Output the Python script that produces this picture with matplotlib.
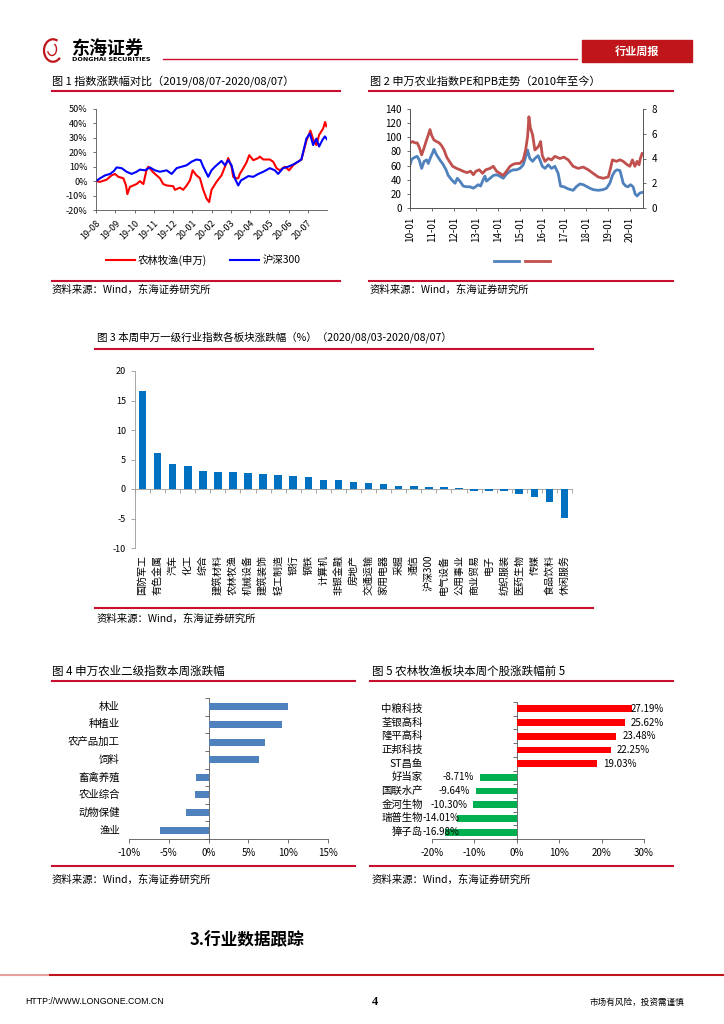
import matplotlib
matplotlib.use('Agg')

import numpy as np
import matplotlib.pyplot as plt
from matplotlib.lines import Line2D
from matplotlib.patches import Rectangle, Arc
from matplotlib.ticker import FuncFormatter

plt.rcParams['font.family'] = ['Noto Sans CJK SC', 'DejaVu Sans']
plt.rcParams['axes.unicode_minus'] = False
plt.rcParams['axes.linewidth'] = 0.6
plt.rcParams['axes.edgecolor'] = '#555555'
plt.rcParams['xtick.color'] = '#555555'
plt.rcParams['ytick.color'] = '#555555'
plt.rcParams['xtick.labelcolor'] = 'black'
plt.rcParams['ytick.labelcolor'] = 'black'

# =========================== 数据 ===========================
# 图1 指数涨跌幅 (横轴: 自2019/08/07起的月数, 纵轴: %)
agri_x = [0, 0.21, 0.55, 0.81, 0.99, 1.16, 1.42, 1.56, 1.63, 1.76, 2.11, 2.28, 2.46, 2.63, 2.72,
          2.98, 3.32, 3.49, 3.67, 4.01, 4.10, 4.36, 4.53, 4.71, 4.88, 5.02, 5.22, 5.40, 5.57, 5.74,
          5.88, 6.00, 6.26, 6.52, 6.70, 6.87, 7.04, 7.13, 7.30, 7.39, 7.47, 7.65, 7.82, 7.96, 8.17,
          8.43, 8.51, 8.69, 9.03, 9.20, 9.38, 9.55, 9.81, 10.03, 10.24, 10.50, 10.67, 10.93, 11.14,
          11.28, 11.45, 11.59, 11.80, 11.90, 11.97]
agri_y = [0, -0.5, 1, 4, 5, 3, 2, -3, -9, -4, -2, 0, -2, 8, 10,
          6, 2, -2, -3, -3.5, -6, -4.5, -6, -3, 0.5, 7.5, 4, 2, -6, -12,
          -14.5, -6, -0.5, 4, 10, 16, 10, 3, 2, 2, 5, 9, 13, 18, 14.5,
          16, 17, 15, 15, 13.5, 9, 7.5, 10, 7.5, 11, 13.5, 15, 28, 35,
          29, 25, 32, 36.5, 41, 38]
hs_x = [0, 0.21, 0.47, 0.73, 0.93, 1.07, 1.33, 1.59, 1.85, 2.11, 2.28, 2.54, 2.80, 3.06, 3.32,
        3.67, 3.93, 4.19, 4.45, 4.71, 4.97, 5.22, 5.43, 5.57, 5.83, 6.00, 6.18, 6.35, 6.52, 6.70,
        6.87, 7.04, 7.21, 7.39, 7.53, 7.73, 7.91, 8.17, 8.43, 8.69, 9.03, 9.29, 9.46, 9.72, 9.98,
        10.24, 10.50, 10.67, 10.93, 11.11, 11.28, 11.45, 11.59, 11.76, 11.89, 12.0]
hs_y = [0, 2, 4, 5, 7, 9.5, 9, 6.5, 5, 6.5, 8, 7.5, 9.5, 7.5, 6.5,
        7.5, 5, 9, 10, 11, 13.5, 15, 14.5, 10, 3, 7.5, 10, 12, 14, 11,
        14.5, 11, 2, -3, 0.5, 2, 3.5, 3, 5, 6.5, 9, 7.5, 5, 9, 10,
        11.5, 13.5, 15, 29.5, 33, 25, 29.5, 24, 28.5, 31, 29]
months1 = ['19-08', '19-09', '19-10', '19-11', '19-12', '20-01', '20-02',
           '20-03', '20-04', '20-05', '20-06', '20-07']

# 图2 PE(左轴) / PB(右轴), 横轴: 自2010-01起的年数
pe_x = [0.00, 0.08, 0.23, 0.33, 0.42, 0.53, 0.64, 0.76, 0.83, 0.94, 1.03, 1.09, 1.21, 1.36, 1.52,
        1.64, 1.74, 1.89, 2.05, 2.15, 2.27, 2.42, 2.58, 2.73, 2.88, 3.00, 3.11, 3.21, 3.33, 3.41,
        3.48, 3.64, 3.79, 3.94, 4.09, 4.24, 4.39, 4.55, 4.70, 4.85, 5.00, 5.15, 5.26, 5.35, 5.45,
        5.58, 5.68, 5.83, 5.91, 6.02, 6.14, 6.29, 6.44, 6.59, 6.74, 6.85, 7.00, 7.20, 7.42, 7.58,
        7.73, 7.88, 8.03, 8.18, 8.33, 8.56, 8.79, 8.94, 9.09, 9.21, 9.32, 9.42, 9.55, 9.62, 9.70,
        9.82, 9.92, 10.03, 10.15, 10.24, 10.33, 10.45, 10.55]
pe_y = [61, 69, 72, 73, 68, 56, 66, 68, 63, 72, 78, 83, 75, 68, 61,
        54, 46, 40, 35, 42, 38, 31, 30, 30, 28, 30.5, 33, 31, 40, 45,
        38, 42, 46, 47, 45, 42, 48, 52, 54, 54, 56, 61, 72, 82, 70,
        66, 70, 74, 68, 59, 56, 61, 56, 59, 49, 31, 30, 27, 25, 30.5,
        34, 33, 30.5, 28, 26, 25, 26, 28, 35, 46, 52, 54, 53, 45, 35,
        31, 30, 33, 30, 20, 17, 21, 22]
pb_x = [0.00, 0.12, 0.23, 0.33, 0.42, 0.53, 0.64, 0.73, 0.83, 0.91, 0.98, 1.09, 1.21, 1.33, 1.44,
        1.55, 1.67, 1.79, 1.94, 2.12, 2.27, 2.42, 2.58, 2.76, 2.88, 3.00, 3.15, 3.30, 3.45, 3.64,
        3.79, 3.94, 4.09, 4.24, 4.39, 4.55, 4.70, 4.85, 5.00, 5.15, 5.26, 5.35, 5.41, 5.48, 5.58,
        5.68, 5.79, 5.88, 5.94, 6.02, 6.14, 6.29, 6.44, 6.59, 6.82, 7.00, 7.20, 7.42, 7.65, 7.88,
        8.11, 8.33, 8.56, 8.79, 9.02, 9.12, 9.21, 9.39, 9.55, 9.70, 9.85, 10.00, 10.12, 10.23,
        10.33, 10.42, 10.48, 10.56]
pb_y = [5.26, 5.37, 5.26, 5.26, 4.91, 4.29, 4.86, 5.37, 5.89, 6.34, 5.89, 5.49, 5.37, 5.26, 5.03,
        4.69, 4.11, 3.77, 3.37, 3.20, 3.09, 2.97, 2.86, 2.97, 2.69, 2.97, 3.09, 2.80, 3.09, 3.20,
        3.37, 2.97, 2.80, 2.63, 2.97, 3.37, 3.54, 3.60, 3.60, 3.89, 4.69, 5.77, 7.37, 6.46, 5.89,
        4.69, 4.86, 5.09, 5.37, 4.23, 3.77, 4.00, 3.89, 4.17, 4.00, 4.11, 3.89, 3.37, 3.20, 3.31,
        3.09, 2.80, 2.51, 2.40, 2.51, 3.20, 3.89, 3.77, 3.89, 3.77, 3.54, 3.37, 3.89, 3.37,
        3.77, 3.49, 4.00, 4.40]
years2 = ['10-01', '11-01', '12-01', '13-01', '14-01', '15-01', '16-01',
          '17-01', '18-01', '19-01', '20-01']

# 图3 申万一级行业本周涨跌幅 (%)
cats3 = ['国防军工', '有色金属', '汽车', '化工', '综合', '建筑材料', '农林牧渔', '机械设备',
         '建筑装饰', '轻工制造', '银行', '钢铁', '计算机', '非银金融', '房地产', '交通运输',
         '家用电器', '采掘', '通信', '沪深300', '电气设备', '公用事业', '商业贸易', '电子',
         '纺织服装', '医药生物', '传媒', '食品饮料', '休闲服务']
vals3 = [16.6, 6.1, 4.3, 3.85, 3.1, 2.9, 2.8, 2.65, 2.5, 2.3, 2.15, 2.0, 1.5, 1.5, 1.25, 1.05,
         0.9, 0.55, 0.45, 0.3, 0.28, 0.25, -0.3, -0.3, -0.3, -0.8, -1.4, -2.2, -4.9]

# 图4 申万农业二级指数本周涨跌幅 (%)
cats4 = ['林业', '种植业', '农产品加工', '饲料', '畜禽养殖', '农业综合', '动物保健', '渔业']
vals4 = [10.0, 9.2, 7.1, 6.3, -1.55, -1.75, -2.8, -6.1]

# 图5 个股涨跌幅前5 (%)
cats5 = ['中粮科技', '荃银高科', '隆平高科', '正邦科技', 'ST昌鱼',
         '好当家', '国联水产', '金河生物', '瑞普生物', '獐子岛']
vals5 = [27.19, 25.62, 23.48, 22.25, 19.03, -8.71, -9.64, -10.30, -14.01, -16.98]

# =========================== 画布 ===========================
W, H = 724, 1024
RED = '#C8102E'
fig = plt.figure(figsize=(W / 100, H / 100), dpi=100)


def box(x0, y0, x1, y1):
    return [x0 / W, 1 - y1 / H, (x1 - x0) / W, (y1 - y0) / H]


def ftext(x, y, s, **kw):
    kw.setdefault('va', 'center')
    fig.text(x / W, 1 - y / H, s, **kw)


def hline(x0, x1, y, color=RED, lw=1.5):
    fig.add_artist(Line2D([x0 / W, x1 / W], [1 - y / H, 1 - y / H], color=color, lw=lw))


pct = FuncFormatter(lambda v, p: f'{v:.0f}%')
SRC = '资料来源：Wind，东海证券研究所'

# -------------------- 页眉 --------------------
logo = fig.add_axes(box(42, 38, 62, 63))
logo.set_xlim(0, 1)
logo.set_ylim(0, 1)
logo.axis('off')
logo.add_patch(Arc((0.55, 0.5), 0.9, 0.9, theta1=60, theta2=320, color='#C0161B', lw=1.6))
logo.add_patch(Arc((0.5, 0.55), 0.45, 0.5, theta1=200, theta2=60, color='#C0161B', lw=1.0))
ftext(72, 48, '东海证券', fontsize=13, fontweight='bold', ha='left')
ftext(72, 59.5, 'DONGHAI SECURITIES', fontsize=4.6, fontweight='bold', ha='left',
      family=['DejaVu Sans'])
hline(163, 577, 59, lw=1.0)
fig.add_artist(Rectangle((582 / W, 1 - 62 / H), 110 / W, 22 / H, color='#C0161B'))
ftext(637, 51, '行业周报', fontsize=8, fontweight='bold', color='white', ha='center')

# -------------------- 图1 --------------------
ftext(52, 82, '图 1 指数涨跌幅对比（2019/08/07-2020/08/07）', fontsize=8, ha='left')
hline(52, 340, 91)
ax1 = fig.add_axes(box(96, 109, 327, 210))
ax1.plot(agri_x, agri_y, color='#FF0000', lw=1.5, label='农林牧渔(申万)')
ax1.plot(hs_x, hs_y, color='#0000FF', lw=1.5, label='沪深300')
ax1.set_xlim(0, 12)
ax1.set_ylim(-20, 50)
ax1.set_yticks(np.arange(-20, 51, 10))
ax1.yaxis.set_major_formatter(pct)
ax1.set_xticks(np.arange(len(months1)))
ax1.set_xticklabels(months1, rotation=45, ha='right', rotation_mode='anchor')
ax1.spines[['top', 'right']].set_visible(False)
ax1.tick_params(labelsize=6.5, length=2.5, width=0.6)
ax1.legend(loc='center', bbox_to_anchor=(203 / W, 1 - 260 / H), bbox_transform=fig.transFigure,
           ncol=2, frameon=False, fontsize=7.5, handlelength=2.8, columnspacing=2.2,
           handletextpad=0.3)
hline(52, 340, 281)
ftext(52, 290, SRC, fontsize=7.5, ha='left')

# -------------------- 图2 --------------------
ftext(370, 82, '图 2 申万农业指数PE和PB走势（2010年至今）', fontsize=8, ha='left')
hline(369, 673, 91)
ax2 = fig.add_axes(box(410, 109, 643, 208))
ax2b = ax2.twinx()
l_pe, = ax2.plot(pe_x, pe_y, color='#4F81BD', lw=2.0)
l_pb, = ax2b.plot(pb_x, pb_y, color='#C0504D', lw=2.0)
ax2.set_xlim(0, 10.6)
ax2.set_ylim(0, 140)
ax2.set_yticks(np.arange(0, 141, 20))
ax2b.set_ylim(0, 8)
ax2b.set_yticks(np.arange(0, 9, 2))
ax2.set_xticks(np.arange(len(years2)))
ax2.set_xticklabels(years2, rotation=90)
for a in (ax2, ax2b):
    a.spines['top'].set_visible(False)
    a.tick_params(labelsize=7, length=2.5, width=0.6)
ax2.legend([l_pe, l_pb], ['', ''], loc='center', bbox_to_anchor=(522 / W, 1 - 261 / H),
           bbox_transform=fig.transFigure, ncol=2, frameon=False, fontsize=7,
           handlelength=2.6, handletextpad=0, columnspacing=0.6)
hline(369, 673, 281)
ftext(370, 290, SRC, fontsize=7.5, ha='left')

# -------------------- 图3 --------------------
ftext(97, 337, '图 3 本周申万一级行业指数各板块涨跌幅（%）（2020/08/03-2020/08/07）',
      fontsize=7.6, ha='left')
hline(95, 593, 349)
ax3 = fig.add_axes(box(135, 371, 572, 548))
x3 = np.arange(len(cats3))
ax3.bar(x3, vals3, width=0.5, color='#0070C0', zorder=3)
ax3.set_xlim(-0.5, len(cats3) - 0.5)
ax3.set_ylim(-10, 20)
ax3.set_yticks(np.arange(-10, 21, 5))
ax3.spines[['top', 'right']].set_visible(False)
ax3.spines['bottom'].set_position(('data', 0))
ax3.spines['left'].set_color('#999999')
ax3.spines['bottom'].set_color('#999999')
ax3.set_xticks(np.arange(-0.5, len(cats3), 1))
ax3.set_xticklabels([])
ax3.tick_params(axis='x', length=3, width=0.6, color='#999999')
ax3.tick_params(axis='y', labelsize=6.5, length=3, width=0.6, color='#999999')
for xi, c in zip(x3, cats3):
    ax3.annotate(c, (xi, 0), xycoords=('data', 'axes fraction'), xytext=(0, -5),
                 textcoords='offset points', rotation=90, ha='center', va='top', fontsize=7.2)
hline(95, 593, 608)
ftext(97, 619, SRC, fontsize=7.5, ha='left')

# -------------------- 图4 --------------------
ftext(52, 671, '图 4 申万农业二级指数本周涨跌幅', fontsize=8.3, ha='left')
hline(52, 355, 681)
ax4 = fig.add_axes(box(129, 698, 328, 839))
y4 = np.arange(len(cats4))
ax4.barh(y4, vals4, height=0.4, color='#4F81BD', zorder=3)
ax4.set_xlim(-10, 15)
ax4.set_ylim(len(cats4) - 0.5, -0.5)
ax4.set_xticks(np.arange(-10, 16, 5))
ax4.xaxis.set_major_formatter(pct)
ax4.spines[['top', 'right']].set_visible(False)
ax4.spines['left'].set_position(('data', 0))
ax4.set_yticks(np.arange(-0.5, len(cats4), 1))
ax4.set_yticklabels([])
ax4.tick_params(labelsize=7, length=3, width=0.6)
for yi, c in zip(y4, cats4):
    ax4.annotate(c, (0, yi), xycoords=('axes fraction', 'data'), xytext=(-6.5, 0),
                 textcoords='offset points', ha='right', va='center', fontsize=7.5)
hline(52, 355, 866)
ftext(52, 880, SRC, fontsize=7.5, ha='left')

# -------------------- 图5 --------------------
ftext(372, 671, '图 5 农林牧渔板块本周个股涨跌幅前 5', fontsize=8.3, ha='left')
hline(370, 673, 681)
ax5 = fig.add_axes(box(432, 702, 644, 839))
y5 = np.arange(len(cats5))
colors5 = ['#FF0000' if v > 0 else '#00B050' for v in vals5]
ax5.barh(y5, vals5, height=0.5, color=colors5, zorder=3)
ax5.set_xlim(-20, 30)
ax5.set_ylim(len(cats5) - 0.5, -0.5)
ax5.set_xticks(np.arange(-20, 31, 10))
ax5.xaxis.set_major_formatter(pct)
ax5.spines[['top', 'right']].set_visible(False)
ax5.spines['left'].set_position(('data', 0))
ax5.set_yticks(np.arange(-0.5, len(cats5), 1))
ax5.set_yticklabels([])
ax5.tick_params(labelsize=7, length=3, width=0.6)
for yi, c, v in zip(y5, cats5, vals5):
    ax5.annotate(c, (0, yi), xycoords=('axes fraction', 'data'), xytext=(-6.5, 0),
                 textcoords='offset points', ha='right', va='center', fontsize=7.5)
    if v > 0:
        ax5.text(min(v + 1.4, 26.8), yi, f'{v:.2f}%', ha='left', va='center', fontsize=7)
    elif v > -12:
        ax5.text(v - 1.4, yi, f'{v:.2f}%', ha='right', va='center', fontsize=7)
    else:
        ax5.text(-22.3, yi, f'{v:.2f}%', ha='left', va='center', fontsize=7)
hline(370, 673, 866)
ftext(372, 880, SRC, fontsize=7.5, ha='left')

# -------------------- 页脚 --------------------
ftext(190, 940, '3.行业数据跟踪', fontsize=12, fontweight='bold', ha='left')
hline(0, 50, 975, color='#E8A0A0', lw=1.5)
hline(50, 724, 975, color='#C0161B', lw=1.5)
ftext(25, 1002, 'HTTP://WWW.LONGONE.COM.CN', fontsize=6.3, ha='left', family=['Liberation Sans'])
ftext(375, 1002, '4', fontsize=9, fontweight='bold', ha='center', family=['Liberation Serif'])
ftext(590, 1002, '市场有风险，投资需谨慎', fontsize=6.2, ha='left')

fig.savefig('out.png', dpi=100)
